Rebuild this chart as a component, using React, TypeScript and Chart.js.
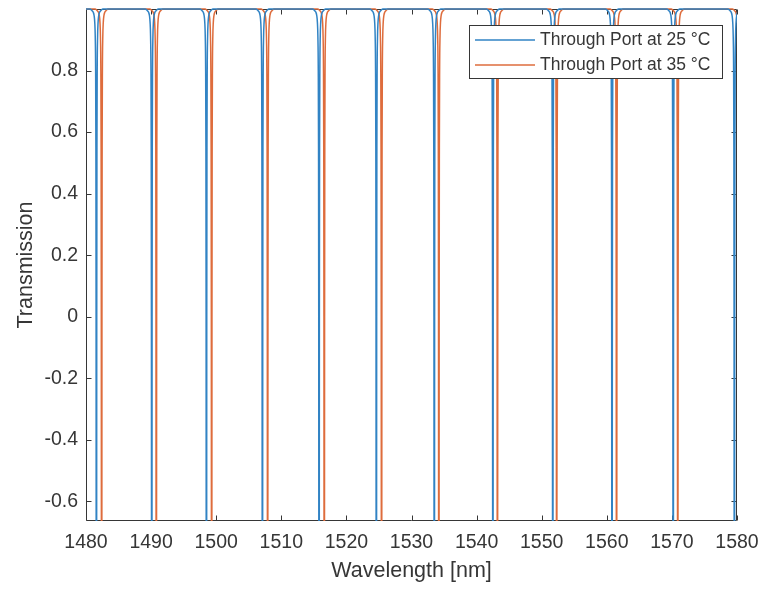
import React, { useEffect, useRef } from 'react';
import { Chart, registerables } from 'chart.js';

Chart.register(...registerables);

// Resonance dip centres [nm] of the ring's through port at each temperature
const DIPS_25C = [1481.6, 1490.1, 1498.5, 1507.1, 1515.8, 1524.6, 1533.5, 1542.5, 1551.7, 1560.8, 1570.2, 1579.6];
const DIPS_35C = [1482.4, 1490.8, 1499.3, 1507.9, 1516.6, 1525.4, 1534.2, 1543.2, 1552.3, 1561.5, 1570.9, 1580.3];

// Shape of a single dip: wavelength offset from the centre [nm] and transmission
const DIP_OFFSETS = [-1.0, -0.7, -0.5, -0.35, -0.25, -0.18, -0.12, -0.08, -0.05, -0.03, 0, 0.03, 0.05, 0.08, 0.12, 0.18, 0.25, 0.35, 0.5, 0.7, 1.0];
const DIP_VALUES = [1.0, 0.995, 0.99, 0.978, 0.955, 0.91, 0.8, 0.55, 0.0, -1.0, -3.0, -1.0, 0.0, 0.55, 0.8, 0.91, 0.955, 0.978, 0.99, 0.995, 1.0];

const SPAN_START = 1480;
const SPAN_END = 1581.5;

const SERIES_LABELS = ['Through Port at 25 °C', 'Through Port at 35 °C'];
const SERIES_COLORS = ['#3183c4', '#de6c3c'];

const X_TICKS = [1480, 1490, 1500, 1510, 1520, 1530, 1540, 1550, 1560, 1570, 1580];
const Y_TICKS = [-0.6, -0.4, -0.2, 0, 0.2, 0.4, 0.6, 0.8];
const X_MIN = 1480;
const X_MAX = 1580;
const Y_MIN = -0.664;
const Y_MAX = 1.0;

const FONT = '"Liberation Sans", Arial, Helvetica, sans-serif';
const INK = '#363636';

function buildSpectrum(centres: number[]) {
  const pts: { x: number; y: number }[] = [{ x: SPAN_START, y: 1 }];
  centres.forEach((c) => {
    DIP_OFFSETS.forEach((o, i) => pts.push({ x: c + o, y: DIP_VALUES[i] }));
  });
  pts.push({ x: SPAN_END, y: 1 });
  return pts;
}

// Box around the plot with inward ticks on all four sides
const boxAxes = {
  id: 'boxAxes',
  beforeDatasetsDraw(chart: any) {
    const { ctx, chartArea: a, scales } = chart;
    const L = Math.round(a.left) + 0.5;
    const R = Math.round(a.right) - 0.5;
    const T = Math.round(a.top) + 0.5;
    const B = Math.round(a.bottom) - 0.5;
    const len = 5;
    ctx.save();
    ctx.strokeStyle = INK;
    ctx.lineWidth = 1;
    ctx.beginPath();
    ctx.rect(L, T, R - L, B - T);
    X_TICKS.forEach((v) => {
      const px = Math.round(scales.x.getPixelForValue(v)) + 0.5;
      ctx.moveTo(px, B);
      ctx.lineTo(px, B - len);
      ctx.moveTo(px, T);
      ctx.lineTo(px, T + len);
    });
    Y_TICKS.forEach((v) => {
      const py = Math.round(scales.y.getPixelForValue(v)) + 0.5;
      ctx.moveTo(L, py);
      ctx.lineTo(L + len, py);
      ctx.moveTo(R, py);
      ctx.lineTo(R - len, py);
    });
    ctx.stroke();
    ctx.restore();
  },
};

// Boxed legend in the upper-right corner of the plot
const boxLegend = {
  id: 'boxLegend',
  afterDatasetsDraw(chart: any) {
    const { ctx, chartArea: a } = chart;
    const sets = chart.data.datasets;
    ctx.save();
    ctx.font = `17.5px ${FONT}`;
    const textW = Math.max(...sets.map((d: any) => ctx.measureText(d.label).width));
    const padL = 6;
    const sampleW = 60;
    const gap = 5;
    const rowH = 25;
    const w = padL + sampleW + gap + textW + 12;
    const h = rowH * sets.length + 3;
    const right = Math.round(a.right) - 15;
    const left = right - Math.round(w);
    const top = Math.round(a.top) + 16;
    ctx.fillStyle = '#ffffff';
    ctx.fillRect(left, top, right - left, h);
    ctx.strokeStyle = INK;
    ctx.lineWidth = 1;
    ctx.strokeRect(left + 0.5, top + 0.5, right - left, h);
    sets.forEach((d: any, i: number) => {
      const cy = top + 15 + i * rowH;
      ctx.strokeStyle = d.borderColor;
      ctx.lineWidth = 1.5;
      ctx.beginPath();
      ctx.moveTo(left + padL, cy);
      ctx.lineTo(left + padL + sampleW, cy);
      ctx.stroke();
      ctx.fillStyle = INK;
      ctx.textAlign = 'left';
      ctx.textBaseline = 'middle';
      ctx.fillText(d.label, left + padL + sampleW + gap, cy);
    });
    ctx.restore();
  },
};

export default function App() {
  const canvasRef = useRef<HTMLCanvasElement | null>(null);

  useEffect(() => {
    if (!canvasRef.current) return;
    const chart = new Chart(canvasRef.current, {
      type: 'line',
      data: {
        datasets: [DIPS_25C, DIPS_35C].map((centres, i) => ({
          label: SERIES_LABELS[i],
          data: buildSpectrum(centres),
          borderColor: SERIES_COLORS[i],
          backgroundColor: SERIES_COLORS[i],
          borderWidth: 1.5,
          pointRadius: 0,
          fill: false,
          cubicInterpolationMode: 'monotone' as const,
          clip: { left: 0, right: 0, top: 2, bottom: 0 } as any,
        })),
      },
      options: {
        animation: false,
        responsive: false,
        parsing: false as any,
        normalized: true,
        layout: { padding: { left: 0, right: 26, top: 9, bottom: 0 } },
        plugins: {
          legend: { display: false },
          tooltip: { enabled: false },
        },
        scales: {
          x: {
            type: 'linear',
            min: X_MIN,
            max: X_MAX,
            afterBuildTicks: (s: any) => {
              s.ticks = X_TICKS.map((v) => ({ value: v }));
            },
            afterFit: (s: any) => {
              s.height = 69;
              s.paddingLeft = 0;
              s.paddingRight = 0;
            },
            ticks: {
              color: INK,
              font: { family: FONT, size: 19.5, lineHeight: 1.2 },
              padding: 10,
              maxRotation: 0,
              autoSkip: false,
              callback: (v: any) => String(v),
            },
            grid: { display: false, drawTicks: false },
            border: { display: false },
            title: {
              display: true,
              text: 'Wavelength [nm]',
              color: INK,
              font: { family: FONT, size: 21.5, lineHeight: 1.2 },
              padding: { top: 0, bottom: 6 },
            },
          },
          y: {
            type: 'linear',
            min: Y_MIN,
            max: Y_MAX,
            afterBuildTicks: (s: any) => {
              s.ticks = Y_TICKS.map((v) => ({ value: v }));
            },
            afterFit: (s: any) => {
              s.width = 86;
              s.paddingTop = 0;
              s.paddingBottom = 0;
            },
            ticks: {
              color: INK,
              font: { family: FONT, size: 19.5, lineHeight: 1.2 },
              padding: 8,
              autoSkip: false,
              callback: (v: any) => String(Math.round(v * 10) / 10),
            },
            grid: { display: false, drawTicks: false },
            border: { display: false },
            title: {
              display: true,
              text: 'Transmission',
              color: INK,
              font: { family: FONT, size: 21.5, lineHeight: 1.2 },
              padding: { top: 13, bottom: 0 },
            },
          },
        },
      },
      plugins: [boxAxes, boxLegend],
    });
    return () => chart.destroy();
  }, []);

  return (
    <div style={{ position: 'absolute', left: 0, top: 0, width: 763, height: 590, background: '#ffffff' }}>
      <canvas ref={canvasRef} width={763} height={590} style={{ display: 'block' }} />
    </div>
  );
}
